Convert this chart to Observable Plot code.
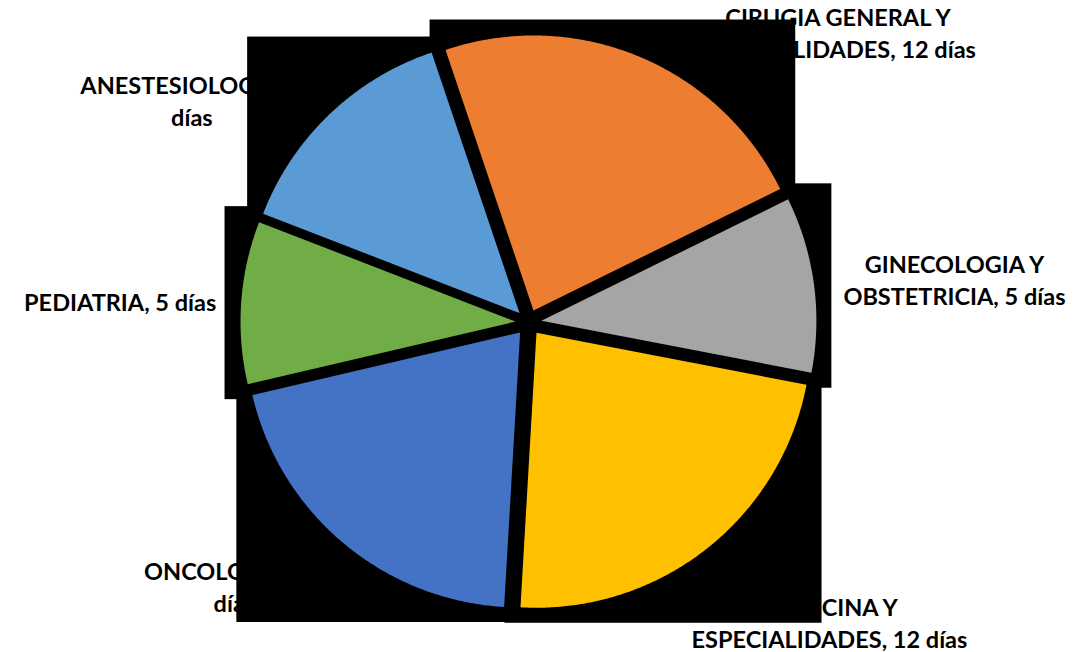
<!DOCTYPE html>
<html><head><meta charset="utf-8">
<script src="https://cdn.jsdelivr.net/npm/d3@7"></script>
<script src="https://cdn.jsdelivr.net/npm/@observablehq/plot@0.6"></script>
<style>body{margin:0;background:#fff} svg{display:block}</style>
</head><body><div id="chart"></div>
<script>
// ---- data ----
const names = ["ANESTESIOLOGIA", "CIRUGIA GENERAL Y ESPECIALIDADES", "GINECOLOGIA Y OBSTETRICIA", "MEDICINA Y ESPECIALIDADES", "ONCOLOGIA", "PEDIATRIA"];
const values = [7.3, 12, 5.4, 12, 10.7, 5];
const labelText = ["ANESTESIOLOGIA, 7\ndías", "CIRUGIA GENERAL Y\nESPECIALIDADES, 12 días", "GINECOLOGIA Y\nOBSTETRICIA, 5 días", "MEDICINA Y\nESPECIALIDADES, 12 días", "ONCOLOGIA, 11\ndías", "PEDIATRIA, 5 días"];
const colors = ["#5B9BD5", "#ED7D31", "#A5A5A5", "#FFC000", "#4472C4", "#70AD47"];

// ---- layout ----
const W = 1091, H = 652;
const R = 275, cx = 528, cy = 322;
const explode = 13 / R;
const startDeg = -68.8;
const labelRadius = 1.35;
const labelNudge = [[-80, 46], [167, 52], [58, 5.5], [73, 6], [-55, -20.6], [-38, 4]];

const a0 = startDeg * Math.PI / 180;
const arcs = d3.pie().sort(null).value(d => d).startAngle(a0).endAngle(a0 + 2 * Math.PI)(values);

const slicePts = [], boxes = [], labels = [];
arcs.forEach((p, i) => {
  const name = names[i];
  const mid = (p.startAngle + p.endAngle) / 2;
  const ox = explode * Math.sin(mid), oy = explode * Math.cos(mid);
  const pts = [{name, x: ox, y: oy}];
  const n = 180;
  for (let k = 0; k <= n; k++) {
    const a = p.startAngle + (p.endAngle - p.startAngle) * k / n;
    pts.push({name, x: ox + Math.sin(a), y: oy + Math.cos(a)});
  }
  slicePts.push(...pts);
  boxes.push({name, x1: d3.min(pts, d => d.x), x2: d3.max(pts, d => d.x), y1: d3.min(pts, d => d.y), y2: d3.max(pts, d => d.y)});
  labels.push({text: labelText[i], x: labelRadius * Math.sin(mid), y: labelRadius * Math.cos(mid), i});
});

const chart = Plot.plot({
  width: W, height: H, margin: 0,
  x: {domain: [-cx / R, (W - cx) / R], axis: null},
  y: {domain: [-(H - cy) / R, cy / R], axis: null},
  color: {domain: names, range: colors},
  marks: [
    ...labels.map(l => Plot.text([l], {
      x: "x", y: "y", text: "text",
      dx: labelNudge[l.i][0], dy: labelNudge[l.i][1],
      fontSize: 23.5, fontWeight: "bold", fontFamily: "Lato",
      lineHeight: 1.36, fill: "#000", textAnchor: "middle"
    })),
    Plot.rect(boxes, {x1: "x1", x2: "x2", y1: "y1", y2: "y2", fill: "#000", inset: -15.5}),
    Plot.line(slicePts, {x: "x", y: "y", z: "name", fill: "name", stroke: "none"})
  ]
});
document.getElementById("chart").appendChild(chart);
</script>
</body></html>
